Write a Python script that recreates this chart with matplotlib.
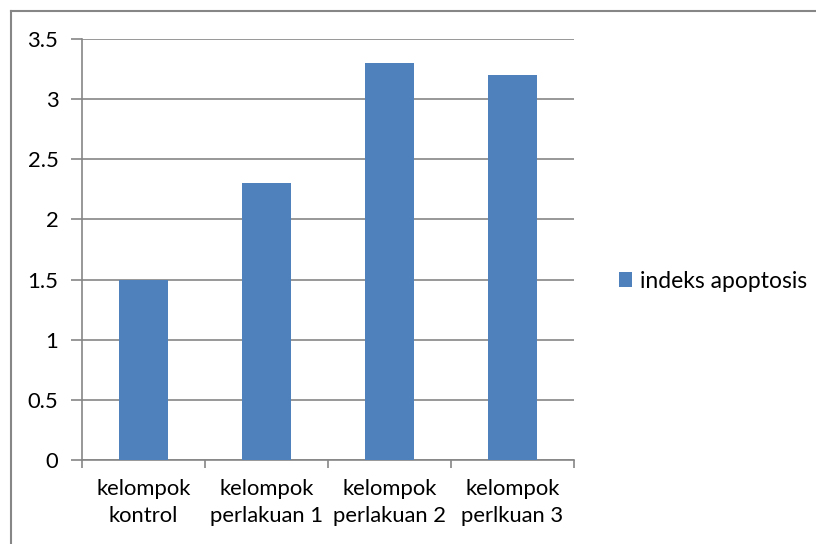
import matplotlib
matplotlib.use("Agg")
import matplotlib.pyplot as plt
from matplotlib.lines import Line2D

plt.rcParams['font.family'] = ['Lato', 'DejaVu Sans']

categories = ["kelompok\nkontrol", "kelompok\nperlakuan 1", "kelompok\nperlakuan 2", "kelompok\nperlkuan 3"]
values = [1.5, 2.3, 3.3, 3.2]
series_name = "indeks apoptosis"
yticks = [0, 0.5, 1, 1.5, 2, 2.5, 3, 3.5]
ytick_labels = ["0", "0.5", "1", "1.5", "2", "2.5", "3", "3.5"]

W, H = 816, 544
fig = plt.figure(figsize=(W / 100, H / 100), dpi=100)
ax = fig.add_axes([82 / W, 1 - 460 / H, (574 - 82) / W, (460 - 39) / H])

grid_c = "#868686"
bar_c = "#4f81bd"
fs = 15.8

x = list(range(len(categories)))
ax.bar(x, values, width=0.4, color=bar_c, label=series_name, zorder=3)
ax.set_xlim(-0.5, len(categories) - 0.5)
ax.set_ylim(0, 3.5)
ax.set_yticks(yticks)
ax.set_yticklabels(ytick_labels, fontsize=fs, color="black")
ax.yaxis.grid(True, color=grid_c, linewidth=1.2, zorder=0)
ax.set_xticks([i - 0.5 for i in range(len(categories) + 1)])
ax.set_xticklabels([])
ax.set_xticks(x, minor=True)
ax.set_xticklabels(categories, minor=True, fontsize=fs, linespacing=1.42)
ax.tick_params(axis="x", which="minor", length=0, pad=14)
ax.tick_params(axis="x", which="major", length=6, color=grid_c, width=1.2)
ax.tick_params(axis="y", length=8, color=grid_c, width=1.2, pad=9)
for s in ["top", "right"]:
    ax.spines[s].set_visible(False)
for s in ["left", "bottom"]:
    ax.spines[s].set_color(grid_c)
    ax.spines[s].set_linewidth(1.2)

leg = fig.legend(loc="center left", bbox_to_anchor=(598 / W, 1 - 281 / H), frameon=False,
                 fontsize=fs + 0.7, handlelength=0.6, handleheight=0.6, handletextpad=0.35,
                 handles=ax.patches[:1], labels=[series_name])

# chart area border (top and left)
fig.add_artist(Line2D([11 / W, 11 / W], [0, 1 - 11 / H], transform=fig.transFigure, color=grid_c, linewidth=1.5))
fig.add_artist(Line2D([11 / W, 1], [1 - 11 / H, 1 - 11 / H], transform=fig.transFigure, color=grid_c, linewidth=1.5))

fig.savefig("out.png", dpi=100)
